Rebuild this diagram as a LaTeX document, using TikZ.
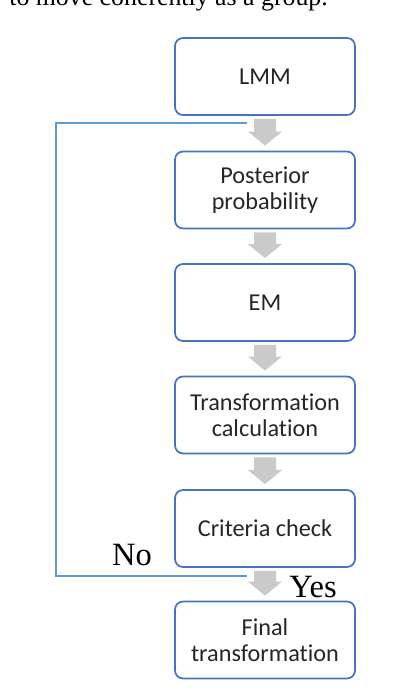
\documentclass[tikz,border=0pt]{standalone}
\usepackage{fontspec}
\setmainfont{Liberation Serif}
\newfontfamily\boxfont[RawFeature={-liga}]{Carlito}
\definecolor{boxblue}{HTML}{4472C4}
\definecolor{loopblue}{HTML}{5B9BD5}
\definecolor{boxtext}{HTML}{262626}
\definecolor{arrowgray}{HTML}{CACACA}

\begin{document}
\begin{tikzpicture}[x=0.02cm, y=-0.02cm,
  stepbox/.style={draw=boxblue, line width=1pt, rounded corners=0.16cm, fill=white,
    minimum width=3.6cm, minimum height=1.54cm, align=center, text=boxtext,
    font=\boxfont\fontsize{13.8}{14.8}\selectfont},
  loopline/.style={draw=loopblue, line width=0.9pt},
  answer/.style={font=\fontsize{18.5}{20}\selectfont}]
  \useasboundingbox (0,0) rectangle (416,700);

  % Text cut off above the chart
  \node[anchor=base west, inner sep=0, font=\fontsize{14.7}{16}\selectfont] (caption) at (9,5) {to move coherently as a group.};

  % Steps
  \node[stepbox] (lmm) at (265,76.5) {LMM};
  \node[stepbox] (post) at (265,190) {Posterior\\probability};
  \node[stepbox] (em) at (265,302.5) {EM};
  \node[stepbox] (trans) at (265,415) {Transformation\\calculation};
  \node[stepbox] (crit) at (265,528.5) {Criteria check};
  \node[stepbox] (final) at (265,640) {Final\\transformation};

  % Gray block arrows
  \foreach \a/\b in {lmm/post, post/em, em/trans, trans/crit, crit/final}
    \fill[arrowgray] ([xshift=-0.22cm, yshift=-0.06cm]\a.south) -- ([xshift=0.22cm, yshift=-0.06cm]\a.south)
      -- ([xshift=0.22cm, yshift=0.38cm]\b.north) -- ([xshift=0.34cm, yshift=0.38cm]\b.north)
      -- ([yshift=0.1cm]\b.north) -- ([xshift=-0.34cm, yshift=0.38cm]\b.north)
      -- ([xshift=-0.22cm, yshift=0.38cm]\b.north) -- cycle;

  % Loop back
  \coordinate (back) at (247,123);
  \coordinate (exit) at (247,576);
  \draw[loopline] (exit) -- ++(-191,0) |- (back);

  % Labels
  \node[answer] (no) at (132,555) {No};
  \node[answer] (yes) at (313,587) {Yes};
\end{tikzpicture}
\end{document}
